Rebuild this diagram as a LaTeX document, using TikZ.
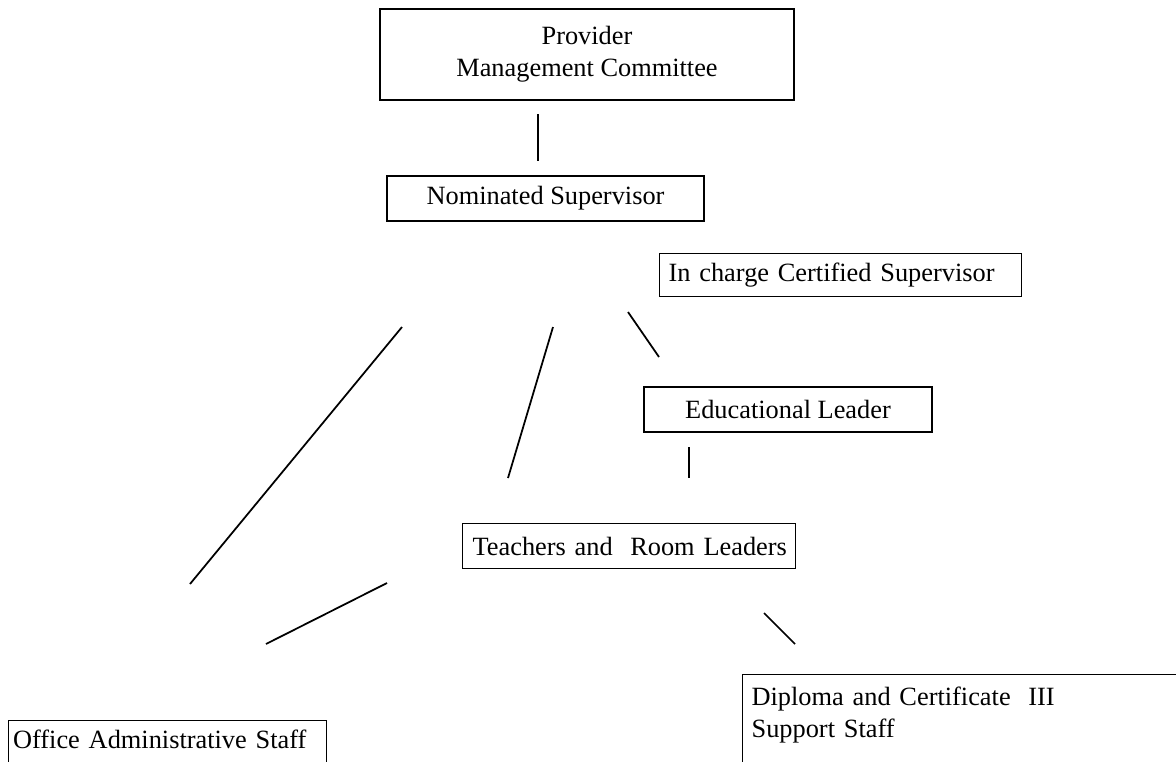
\documentclass[tikz,border=0pt]{standalone}
\usepackage{fontspec}
\setmainfont{Liberation Serif}
\usepackage{tikz}
\usetikzlibrary{positioning}

\begin{document}
\begin{tikzpicture}[
    x=0.02cm, y=-0.02cm,
    role/.style={draw, line width=0.7pt, inner sep=0pt, align=center, font=\fontsize{15}{18.2}\selectfont},
    leftrole/.style={role, anchor=north west, align=left, inner xsep=0.18cm},
    cutrole/.style={leftrole, inner ysep=0.18cm, text depth=1.2cm},
    link/.style={line width=1pt}
]
    \useasboundingbox (0,0) rectangle (1176,761);

    \node[role, minimum width=8.28cm, minimum height=1.82cm] (provider) at (587,54.5) {Provider\\Management Committee};
    \node[role, minimum width=6.34cm, minimum height=0.9cm] (nominee) at (545.5,198.5) {Nominated Supervisor};
    \node[leftrole, text width=6.88cm, minimum height=0.86cm] (incharge) at (659,253) {In charge Certified Supervisor};
    \node[role, minimum width=5.76cm, minimum height=0.9cm] (edlead) at (788,409.5) {Educational Leader};
    \node[leftrole, inner xsep=0.1cm, text width=6.46cm, minimum height=0.9cm] (teachers) at (462,523) {\hspace*{0.1cm}Teachers and\ \ Room Leaders};

    % bottom boxes run off the page
    \node[cutrole, inner xsep=0.09cm, inner ysep=0.16cm, text height=0.4cm, text width=6.18cm] (office) at (8,720) {Office Administrative Staff};
    \node[cutrole, text height=0.44cm, text width=8.8cm] (diploma) at (742,674) {Diploma and Certificate\ \ III\\Support Staff};

    % free-standing connector strokes
    \coordinate (prov-a) at (538,114);  \coordinate (prov-b) at (538,161);
    \coordinate (off-a) at (402,327);   \coordinate (off-b) at (190,584);
    \coordinate (tea-a) at (553,327);   \coordinate (tea-b) at (508,478);
    \coordinate (edl-a) at (628,312);   \coordinate (edl-b) at (659,357);
    \coordinate (room-a) at (689,447);  \coordinate (room-b) at (689,478);
    \coordinate (adm-a) at (387,583);   \coordinate (adm-b) at (266,644);
    \coordinate (sup-a) at (764,613);   \coordinate (sup-b) at (795,644);

    \draw[link] (prov-a) -- (prov-b);
    \draw[link] (off-a) -- (off-b);
    \draw[link] (tea-a) -- (tea-b);
    \draw[link] (edl-a) -- (edl-b);
    \draw[link] (room-a) -- (room-b);
    \draw[link] (adm-a) -- (adm-b);
    \draw[link] (sup-a) -- (sup-b);
\end{tikzpicture}
\end{document}
